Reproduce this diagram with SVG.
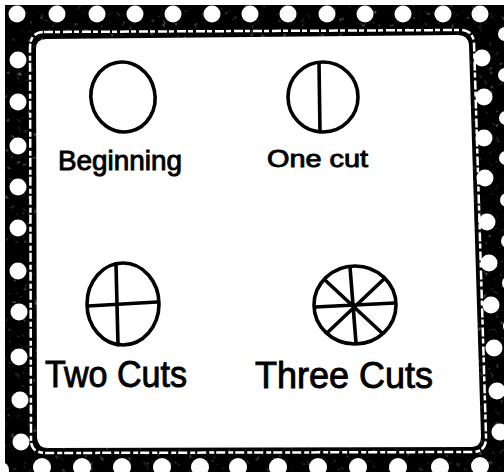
<svg xmlns="http://www.w3.org/2000/svg" width="504" height="472" viewBox="0 0 504 472">
<defs>
<style>
.dot{fill:#fff}
.ink{fill:none;stroke:#000;stroke-width:3.6;stroke-linecap:round;stroke-linejoin:round}
.lbl{font-family:"Liberation Sans",Arial,sans-serif;fill:#000;stroke:#000;stroke-width:0.9}
</style>
<filter id="tex" x="0" y="0" width="100%" height="100%">
<feTurbulence type="fractalNoise" baseFrequency="0.18" numOctaves="2" seed="7"/>
<feColorMatrix type="matrix" values="0 0 0 0 0.45  0 0 0 0 0.45  0 0 0 0 0.45  4 0 0 0 -2.6"/>
</filter>
</defs>
<rect width="504" height="472" fill="#fff"/>
<g id="frame">
<rect x="5" y="5" width="499" height="467" fill="#000"/>
<rect x="5" y="5" width="499" height="467" filter="url(#tex)" opacity="0.55"/>
<g id="dots-top">
<circle class="dot" cx="17" cy="14" r="8.5"/><circle class="dot" cx="57" cy="14" r="8.5"/><circle class="dot" cx="97" cy="14" r="8.5"/><circle class="dot" cx="135" cy="14" r="8.5"/><circle class="dot" cx="173" cy="14" r="8.5"/><circle class="dot" cx="212" cy="14" r="8.5"/><circle class="dot" cx="250" cy="14" r="8.5"/><circle class="dot" cx="288" cy="14" r="8.5"/><circle class="dot" cx="327" cy="14" r="8.5"/><circle class="dot" cx="365" cy="14" r="8.5"/><circle class="dot" cx="403" cy="14" r="8.5"/><circle class="dot" cx="443" cy="14" r="8.5"/><circle class="dot" cx="480" cy="14" r="8.5"/>
</g>
<g id="dots-left">
<circle class="dot" cx="18" cy="60" r="8.5"/><circle class="dot" cx="18" cy="102" r="8.5"/><circle class="dot" cx="18" cy="146" r="8.5"/><circle class="dot" cx="18" cy="187" r="8.5"/><circle class="dot" cx="18" cy="228" r="8.5"/><circle class="dot" cx="18" cy="271" r="8.5"/><circle class="dot" cx="19" cy="312" r="8.5"/><circle class="dot" cx="19" cy="357" r="8.5"/><circle class="dot" cx="20" cy="400" r="8.5"/><circle class="dot" cx="21" cy="442" r="8.5"/>
</g>
<g id="dots-bottom">
<circle class="dot" cx="1" cy="470" r="8"/><circle class="dot" cx="42" cy="467" r="9"/><circle class="dot" cx="82" cy="467" r="9"/><circle class="dot" cx="122" cy="467" r="9"/><circle class="dot" cx="162" cy="467" r="9"/><circle class="dot" cx="200" cy="467" r="9"/><circle class="dot" cx="238" cy="467" r="9"/><circle class="dot" cx="278" cy="467" r="9"/><circle class="dot" cx="318" cy="467" r="9"/><circle class="dot" cx="358" cy="467" r="9"/><circle class="dot" cx="398" cy="467" r="9"/><circle class="dot" cx="440" cy="467" r="9"/><circle class="dot" cx="480" cy="466" r="9"/>
</g>
<g id="dots-right">
<circle class="dot" cx="482" cy="58" r="8.5"/><circle class="dot" cx="484" cy="97" r="8.5"/><circle class="dot" cx="484" cy="138" r="8.5"/><circle class="dot" cx="485" cy="178" r="8.5"/><circle class="dot" cx="487" cy="222" r="8.5"/><circle class="dot" cx="489" cy="263" r="8.5"/><circle class="dot" cx="491" cy="305" r="8.5"/><circle class="dot" cx="494" cy="348" r="8.5"/><circle class="dot" cx="497" cy="391" r="8.5"/><circle class="dot" cx="500" cy="432" r="8.5"/>
<circle class="dot" cx="505" cy="34" r="7"/><circle class="dot" cx="505" cy="75" r="7"/><circle class="dot" cx="506" cy="118" r="7"/><circle class="dot" cx="506" cy="158" r="7"/><circle class="dot" cx="507" cy="200" r="7"/><circle class="dot" cx="508" cy="241" r="7"/><circle class="dot" cx="509" cy="283" r="7"/><circle class="dot" cx="510" cy="326" r="7"/>
</g>
<path d="M44,32 L460,30 Q473,30 474,43 L486,436 Q487,452 472,452 L46,453 Q31,453 31,440 L30,48 Q30,32 44,32 Z" fill="none" stroke="#fff" stroke-width="2.5" stroke-dasharray="9 2 5 3"/>
<path id="panel" d="M46,39 L458,35 Q468,35 469,45 L481,436 Q481,447 471,447 L48,448 Q38,448 37,438 L36,49 Q36,39 46,39 Z" fill="#fff"/>
</g>
<g id="beginning">
<ellipse class="ink" cx="123" cy="97" rx="32" ry="35" transform="rotate(-12 123 97)"/>
<text class="lbl" x="58" y="170" font-size="27" textLength="124" lengthAdjust="spacingAndGlyphs">Beginning</text>
</g>
<g id="one-cut">
<ellipse class="ink" cx="323" cy="97" rx="35" ry="35"/>
<path class="ink" d="M319,63 L320,132"/>
<text class="lbl" x="267" y="167" font-size="24" textLength="101" lengthAdjust="spacingAndGlyphs">One cut</text>
</g>
<g id="two-cuts">
<ellipse class="ink" cx="123" cy="304" rx="36" ry="41"/>
<path class="ink" d="M116,264 L118,345 M88,306 L157,302"/>
<text class="lbl" x="45" y="387" font-size="36" textLength="142" lengthAdjust="spacingAndGlyphs">Two Cuts</text>
</g>
<g id="three-cuts">
<ellipse class="ink" cx="355" cy="305" rx="41" ry="39"/>
<path class="ink" d="M350,267 L356,343 M315,307 L395,303 M326,281 L382,333 M384,279 L328,332"/>
<text class="lbl" x="255" y="388" font-size="36" textLength="178" lengthAdjust="spacingAndGlyphs">Three Cuts</text>
</g>
</svg>
